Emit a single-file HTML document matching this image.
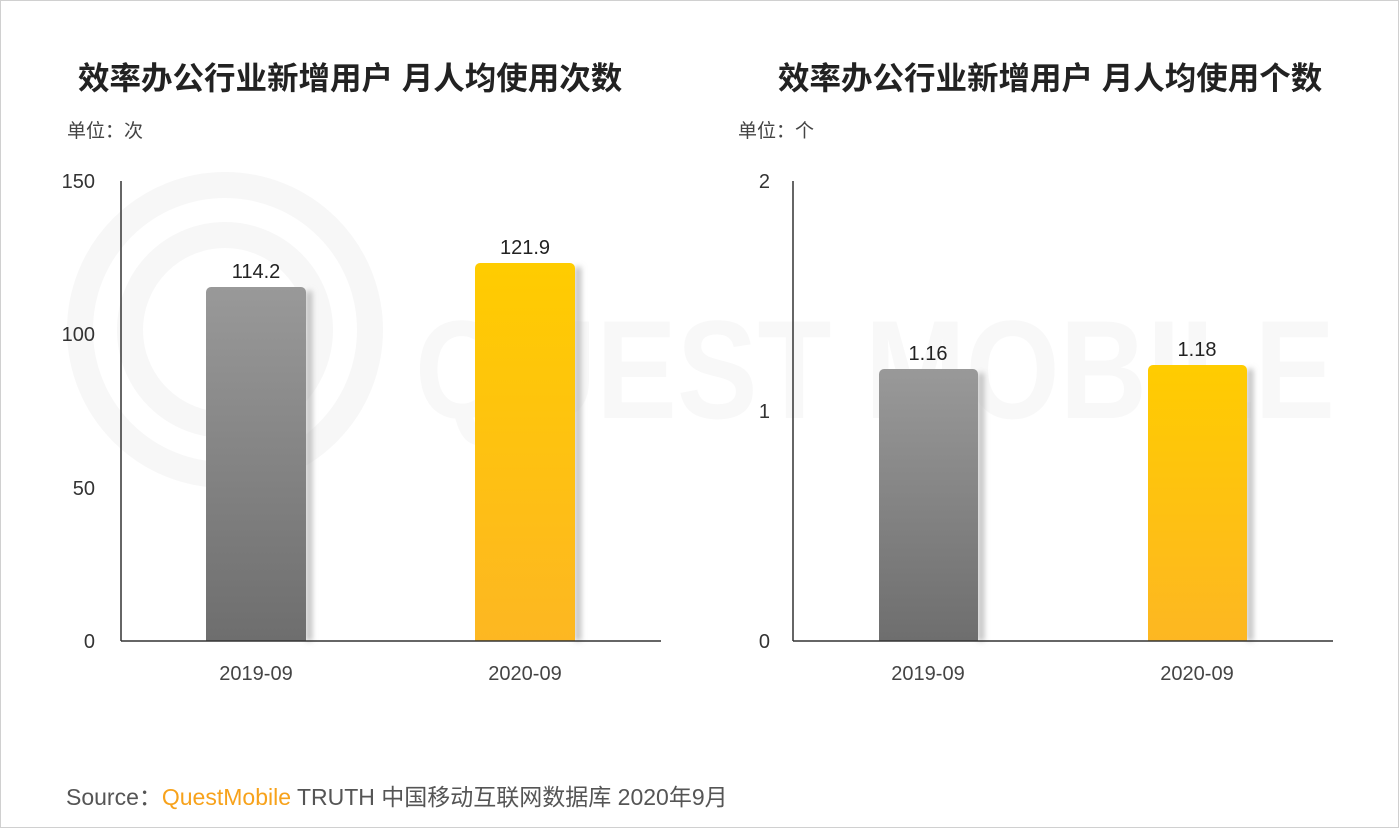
<!DOCTYPE html>
<html><head><meta charset="utf-8"><style>
body{margin:0;width:1399px;height:828px;background:#fff;position:relative;overflow:hidden;font-family:"Liberation Sans","Noto Sans CJK SC",sans-serif;color:#333}
.frame{position:absolute;left:0;top:0;width:1397px;height:826px;border:1px solid #d0d0d0}
.t{position:absolute;white-space:nowrap}
</style></head><body>
<div class="frame"></div>
<svg width="1399" height="828" style="position:absolute;left:0;top:0">
<defs>
<linearGradient id="g" x1="0" y1="0" x2="0" y2="1"><stop offset="0" stop-color="#999"/><stop offset="1" stop-color="#6e6e6e"/></linearGradient>
<linearGradient id="y" x1="0" y1="0" x2="0" y2="1"><stop offset="0" stop-color="#ffcc00"/><stop offset="1" stop-color="#fdb722"/></linearGradient>
<filter id="b"><feGaussianBlur stdDeviation="3"/></filter>
</defs>
<g fill="none" stroke="#f7f7f7" stroke-width="26">
<circle cx="225" cy="330" r="145"/><circle cx="225" cy="330" r="95"/>
</g>
<text x="415" y="418" font-size="140" font-weight="bold" fill="#f8f8f8" font-family="Liberation Sans" textLength="920" lengthAdjust="spacingAndGlyphs">QUEST MOBILE</text>
<g fill="#bbb" filter="url(#b)">
<rect x="306" y="291" width="6" height="350"/><rect x="575" y="267" width="6" height="374"/>
<rect x="978" y="373" width="6" height="268"/><rect x="1247" y="369" width="6" height="272"/>
</g>
<path d="M206 641V292a5 5 0 0 1 5-5h90a5 5 0 0 1 5 5V641z" fill="url(#g)"/>
<path d="M475 641V268a5 5 0 0 1 5-5h90a5 5 0 0 1 5 5V641z" fill="url(#y)"/>
<path d="M879 641V374a5 5 0 0 1 5-5h89a5 5 0 0 1 5 5V641z" fill="url(#g)"/>
<path d="M1148 641V370a5 5 0 0 1 5-5h89a5 5 0 0 1 5 5V641z" fill="url(#y)"/>
<g stroke="#333" stroke-width="1.5">
<line x1="121" y1="181" x2="121" y2="641"/><line x1="121" y1="641" x2="661" y2="641"/>
<line x1="793" y1="181" x2="793" y2="641"/><line x1="793" y1="641" x2="1333" y2="641"/>
</g>
<g font-size="20" fill="#333" text-anchor="end" font-family="Liberation Sans">
<text x="95" y="188">150</text><text x="95" y="341">100</text><text x="95" y="495">50</text><text x="95" y="648">0</text>
<text x="770" y="188">2</text><text x="770" y="418">1</text><text x="770" y="648">0</text>
</g>
<g font-size="20" fill="#222" text-anchor="middle" font-family="Liberation Sans">
<text x="256" y="278">114.2</text><text x="525" y="254">121.9</text>
<text x="928" y="360">1.16</text><text x="1197" y="356">1.18</text>
</g>
<g font-size="20" fill="#444" text-anchor="middle" font-family="Liberation Sans">
<text x="256" y="680">2019-09</text><text x="525" y="680">2020-09</text>
<text x="928" y="680">2019-09</text><text x="1197" y="680">2020-09</text>
</g>
</svg>
<div class="t" style="left:78px;top:53px;font-size:31.5px;font-weight:bold;color:#222">效率办公行业新增用户 月人均使用次数</div>
<div class="t" style="left:778px;top:53px;font-size:31.5px;font-weight:bold;color:#222">效率办公行业新增用户 月人均使用个数</div>
<div class="t" style="left:67px;top:116px;font-size:19px;color:#444">单位：次</div>
<div class="t" style="left:738px;top:116px;font-size:19px;color:#444">单位：个</div>
<div class="t" style="left:66px;top:778px;font-size:23px;color:#555">Source：<span style="color:#f7a21b">QuestMobile</span> TRUTH 中国移动互联网数据库 2020年9月</div>
</body></html>
